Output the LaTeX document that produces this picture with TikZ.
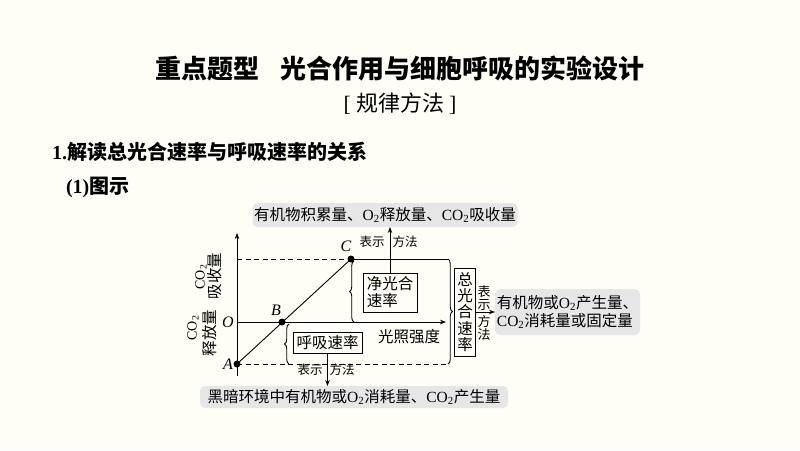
\documentclass[tikz,border=0pt]{standalone}
\usepackage{fontspec}
\setmainfont{Liberation Serif}
\newfontfamily\cjk{Noto Sans CJK SC}
\usetikzlibrary{decorations.pathreplacing,arrows.meta}
\newcommand\sbt[1]{\textsubscript{#1}}
\definecolor{bgc}{RGB}{254,254,246}
\definecolor{lblgray}{RGB}{230,230,230}
\begin{document}
\begin{tikzpicture}[x=1pt,y=-1pt,
  every node/.style={inner sep=0pt, outer sep=0pt},
  lbl/.style={fill=lblgray, rounded corners=5pt, font=\fontsize{15.5}{18}\selectfont},
  boxed/.style={draw, line width=0.9pt, font=\cjk\fontsize{15.5}{17}\selectfont},
  small/.style={font=\cjk\fontsize{12.5}{14}\selectfont},
  ptl/.style={font=\fontsize{16}{18}\selectfont\itshape},
  axl/.style={rotate=90, font=\cjk\fontsize{15.5}{17}\selectfont},
  axc/.style={rotate=90, font=\fontsize{14}{16}\selectfont},
  brc/.style={decorate, decoration={brace, amplitude=4.5pt}},
  dot/.style={circle, fill=black, minimum size=7pt},
  ln/.style={line width=0.9pt},
  dsh/.style={line width=0.9pt, dash pattern=on 5pt off 3.5pt},
  arr/.style={line width=0.9pt, -{Stealth[length=6pt,width=4.5pt]}}
]
\fill[bgc] (0,0) rectangle (800,450);
\useasboundingbox (0,0) rectangle (800,450);

% headings
\node (title) at (400,68) {\cjk\bfseries\fontsize{26}{30}\selectfont 重点题型\hspace{21pt}光合作用与细胞呼吸的实验设计};
\node (sub) at (400,104) {\fontsize{22}{26}\selectfont [\hspace{5pt}{\cjk 规律方法}\hspace{5pt}]};
\node[anchor=west] (h1) at (52,152) {\fontsize{20}{24}\selectfont\bfseries 1.{\cjk 解读总光合速率与呼吸速率的关系}};
\node[anchor=west] (h2) at (66,187) {\fontsize{20}{24}\selectfont\bfseries (1){\cjk 图示}};

% axes
\coordinate (O) at (237,322);
\coordinate (ytop) at (237,233);
\coordinate (ybot) at (237,376);
\coordinate (xend) at (446,322);
\draw[arr] (ybot) -- (ytop);
\draw[arr] (O) -- (xend);

\node[dot] (A) at (237,364) {};
\node[dot] (B) at (282,322) {};
\node[dot] (C) at (351,259) {};
\coordinate (yC) at (237,259);
\coordinate (Ct) at (448,259);
\coordinate (At) at (448,364);
\coordinate (Cx) at (354,322);
\coordinate (Cy) at (354,261);
\coordinate (Rb) at (289,364);
\coordinate (Rt) at (289,324);

\draw[ln] (A.center) -- (C.center);
\draw[dsh] (yC) -- (C.center);
\draw[ln] (C.center) -- (Ct);
\draw[dsh] (A.center) -- (At);
\draw[ln, brc] (Ct) -- (At);
\draw[ln, brc] (Cx) -- (Cy);
\draw[ln, brc] (Rb) -- (Rt);

\node[ptl] (Ol) at (228,322) {O};
\node[ptl] (Al) at (228,364) {A};
\node[ptl] (Bl) at (276,310) {B};
\node[ptl] (Cl) at (346,246) {C};

\node[axc] (co2a) at (201,277) {CO\sbt{2}};
\node[axl] (xs) at (215,276) {吸收量};
\node[axc] (co2b) at (193,328) {CO\sbt{2}};
\node[axl] (sf) at (210,333) {释放量};

\node[font=\cjk\fontsize{15.5}{18}\selectfont] (gz) at (409,337) {光照强度};

% boxes
\node[boxed, align=left, minimum width=54pt, minimum height=39pt] (net) at (390,292.5) {净光合\\速率};
\node[boxed, minimum width=69pt, minimum height=21pt] (resp) at (327.5,342.5) {呼吸速率};
\node[boxed, align=center, minimum width=21pt, minimum height=88pt, font=\cjk\fontsize{15.5}{16.2}\selectfont] (tot) at (465,312) {总\\光\\合\\速\\率};

% labels
\node[lbl, minimum width=265pt, minimum height=24pt] (toplbl) at (385,215)
  {{\cjk 有机物积累量、}O\sbt{2}{\cjk 释放量、}CO\sbt{2}{\cjk 吸收量}};
\node[lbl, minimum width=308pt, minimum height=22pt] (botlbl) at (354,397)
  {{\cjk 黑暗环境中有机物或}O\sbt{2}{\cjk 消耗量、}CO\sbt{2}{\cjk 产生量}};
\node[lbl, align=left, minimum width=145pt, minimum height=46pt] (rightlbl) at (567.5,312)
  {{\cjk 有机物或}O\sbt{2}{\cjk 产生量、}\\CO\sbt{2}{\cjk 消耗量或固定量}};

% arrows
\draw[arr] (net.north) -- (net.north |- toplbl.south);
\draw[arr] (resp.south) -- (resp.south |- botlbl.north);
\draw[arr] (tot.east) -- (tot.east -| rightlbl.west);

\node[small] (bs1) at (372,242) {表示};
\node[small] (ff1) at (405,242) {方法};
\node[small] (bs2) at (310,370) {表示};
\node[small] (ff2) at (342,370) {方法};
\node[align=center, font=\cjk\fontsize{13}{13}\selectfont] (bs3) at (484,298) {表\\示};
\node[align=center, font=\cjk\fontsize{13}{13}\selectfont] (ff3) at (484,328) {方\\法};
\end{tikzpicture}
\end{document}
